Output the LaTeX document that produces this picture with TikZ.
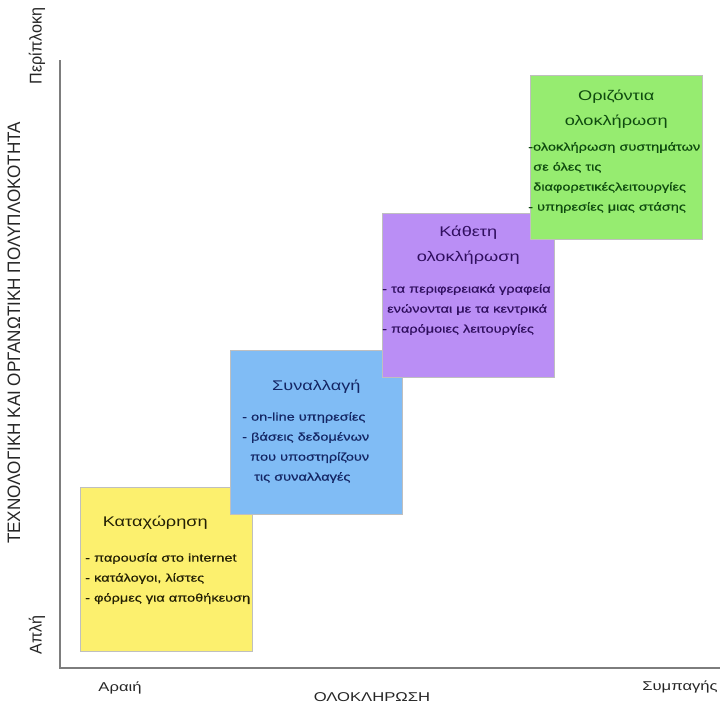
\documentclass[tikz,border=0pt]{standalone}
\usepackage{fontspec}
\setmainfont{Liberation Sans}
\newfontfamily\widefont[FakeStretch=1.3]{Liberation Sans}
\newfontfamily\heavyfont[FakeStretch=1.3,FakeBold=0.6]{Liberation Sans}
\newfontfamily\narrowfont[FakeStretch=0.95]{Liberation Sans}
\usepackage{xcolor}
\usetikzlibrary{positioning}
\definecolor{boxyellow}{RGB}{252,240,110}
\definecolor{boxblue}{RGB}{128,188,245}
\definecolor{boxpurple}{RGB}{186,142,245}
\definecolor{boxgreen}{RGB}{150,236,112}
\definecolor{axisgray}{RGB}{125,125,125}
\definecolor{txtyellow}{RGB}{35,32,5}
\definecolor{txtblue}{RGB}{20,38,100}
\definecolor{txtpurple}{RGB}{48,15,95}
\definecolor{txtgreen}{RGB}{15,75,15}
\tikzset{
  box/.style={draw=black!25, line width=0.6pt, minimum width=172pt, minimum height=164pt, inner sep=0pt, anchor=north west},
  boxtitle/.style={font=\widefont\fontsize{14}{24.5}\selectfont, align=center, inner sep=0pt},
  boxlist/.style={font=\heavyfont\fontsize{11.2}{20}\selectfont, align=left, inner sep=0pt, anchor=north west},
  axisline/.style={axisgray, line width=1.4pt},
  axislabel/.style={font=\widefont\fontsize{12.8}{15}\selectfont, text=black!85, inner sep=0pt},
  sidelabel/.style={font=\narrowfont\fontsize{17}{17}\selectfont, text=black!85, inner sep=0pt, rotate=90}
}

\begin{document}
\begin{tikzpicture}[x=1pt,y=1pt]
\useasboundingbox (0,0) rectangle (721,-707);
% axes
\coordinate (origin) at (60,-668);
\coordinate (ytop) at (60,-60);
\coordinate (xend) at (720,-668);
\draw [axisline] (ytop) -- (origin) -- (xend);
\node [sidelabel] (simple) at (37,-635) {Απλή};
\node [sidelabel] (complex) at (37,-46) {Περίπλοκη};
\node [sidelabel, font=\narrowfont\fontsize{18}{18}\selectfont] (ylabel) at (14,-333) {ΤΕΧΝΟΛΟΓΙΚΗ ΚΑΙ ΟΡΓΑΝΩΤΙΚΗ ΠΟΛΥΠΛΟΚΟΤΗΤΑ};
\node [axislabel] (sparse) at (120,-688) {Αραιή};
\node [axislabel] (dense) at (680,-687) {Συμπαγής};
\node [axislabel] (xlabel) at (372,-697) {ΟΛΟΚΛΗΡΩΣΗ};
% yellow
\node [box, fill=boxyellow] (katax) at (80,-487) {};
\node [boxtitle, text=txtyellow] (kataxtitle) at ([xshift=-11pt,yshift=-36pt]katax.north) {Καταχώρηση};
\node [boxlist, text=txtyellow] (kataxlist) at ([xshift=5pt,yshift=-66pt]katax.north west)
  {- παρουσία στο internet\\- κατάλογοι, λίστες\\- φόρμες για αποθήκευση};
% blue
\node [box, fill=boxblue] (synall) at (230,-350) {};
\node [boxtitle, text=txtblue] (synalltitle) at ([yshift=-37pt]synall.north) {Συναλλαγή};
\node [boxlist, text=txtblue] (synalllist) at ([xshift=12pt,yshift=-62pt]synall.north west)
  {- on-line υπηρεσίες\\- βάσεις δεδομένων\\\hspace*{8pt}που υποστηρίζουν\\\hspace*{12pt}τις συναλλαγές};
% purple
\node [box, fill=boxpurple] (kathet) at (382,-213) {};
\node [boxtitle, text=txtpurple] (kathettitle) at ([yshift=-32pt]kathet.north) {Κάθετη\\ολοκλήρωση};
\node [boxlist, text=txtpurple] (kathetlist) at ([xshift=0pt,yshift=-71pt]kathet.north west)
  {- τα περιφερειακά γραφεία\\\hspace*{5pt}ενώνονται με τα κεντρικά\\- παρόμοιες λειτουργίες};
% green
\node [box, fill=boxgreen] (orizon) at (530,-75) {};
\node [boxtitle, text=txtgreen] (orizontitle) at ([yshift=-34pt]orizon.north) {Οριζόντια\\ολοκλήρωση};
\node [boxlist, text=txtgreen] (orizonlist) at ([xshift=-2pt,yshift=-67pt]orizon.north west)
  {-ολοκλήρωση συστημάτων\\\hspace*{5pt}σε όλες τις\\\hspace*{5pt}διαφορετικέςλειτουργίες\\- υπηρεσίες μιας στάσης};
\end{tikzpicture}
\end{document}
